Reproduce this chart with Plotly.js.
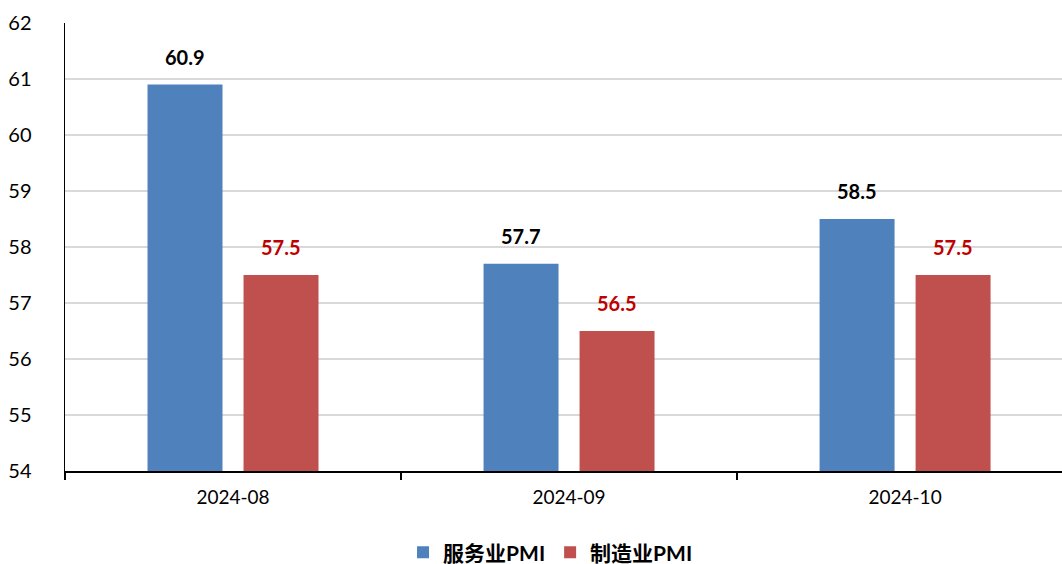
<!DOCTYPE html>
<html><head><meta charset="utf-8">
<script src="https://cdn.plot.ly/plotly-3.0.1.min.js"></script>
<style>html,body{margin:0;padding:0;background:#fff;overflow:hidden}</style>
</head><body>
<div id="chart" style="width:1062px;height:564px"></div>
<script>
const categories = ["2024-08", "2024-09", "2024-10"];
const servicePMI = [60.9, 57.7, 58.5];
const manufPMI = [57.5, 56.5, 57.5];
const seriesNames = ["服务业PMI", "制造业PMI"];
const yTicks = [54, 55, 56, 57, 58, 59, 60, 61, 62];

const FONT = "Lato, 'Noto Sans CJK SC', sans-serif";
const colors = ["#4F81BD", "#C0504D"];
const labelColors = ["#000000", "#C00000"];

const traces = [servicePMI, manufPMI].map((vals, i) => ({
  type: "bar", x: categories, y: vals, name: seriesNames[i],
  marker: {color: colors[i]}, hoverinfo: "x+y"
}));

const annotations = [];
[servicePMI, manufPMI].forEach((vals, i) => {
  vals.forEach((v, j) => {
    annotations.push({
      x: j, y: v, xref: "x", yref: "y", text: v.toFixed(1),
      showarrow: false, yanchor: "bottom", yshift: 14,
      xshift: i === 0 ? -48 : 48,
      font: {family: FONT, size: 20, color: labelColors[i], weight: "bold"}
    });
  });
});

Plotly.newPlot("chart", traces, {
  width: 1062, height: 564,
  margin: {l: 65, r: 0, t: 23, b: 93, autoexpand: false},
  paper_bgcolor: "#fff", plot_bgcolor: "#fff",
  barmode: "group", bargap: 0.4286, bargroupgap: 0.219,
  font: {family: FONT, color: "#000"},
  xaxis: {
    type: "category", range: [-0.5, 2.467], automargin: false,
    showline: true, linecolor: "#000", linewidth: 2,
    ticks: "outside", tickson: "boundaries", ticklen: 7, tickwidth: 2, tickcolor: "#000",
    ticklabelstandoff: 8,
    tickfont: {family: FONT, size: 19, color: "#000"},
    showgrid: false
  },
  yaxis: {
    range: [54, 62], tickvals: yTicks, ticktext: yTicks.map(String), automargin: false,
    showline: true, linecolor: "#000", linewidth: 1.5,
    showgrid: true, gridcolor: "#D9D9D9", gridwidth: 1.5,
    zeroline: false, ticks: "", ticklabelstandoff: 28,
    tickfont: {family: FONT, size: 20, color: "#000"}
  },
  showlegend: true,
  legend: {
    orientation: "h", x: 0.487, xanchor: "center",
    yref: "container", y: 0.02, yanchor: "middle",
    font: {family: FONT, size: 21, color: "#000", weight: "bold"},
    itemwidth: 30, traceorder: "normal"
  },
  annotations: annotations
}, {staticPlot: true});
</script>
</body></html>
